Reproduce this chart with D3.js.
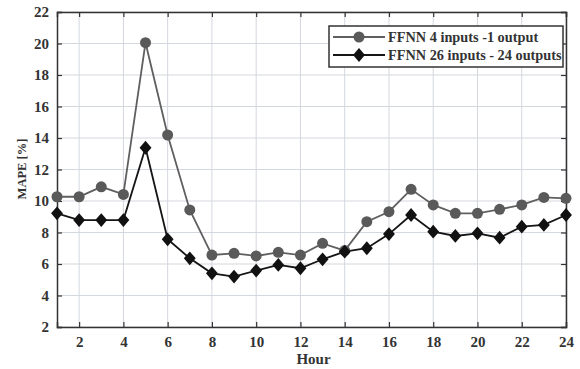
<!DOCTYPE html>
<html>
<head>
<meta charset="utf-8">
<script src="https://cdn.jsdelivr.net/npm/d3@7"></script>
<style>
  body { margin: 0; background: #fff; }
  svg text { font-family: "Liberation Serif", "DejaVu Serif", serif; font-weight: bold; fill: #333; }
</style>
</head>
<body>
<svg id="chart" width="580" height="369"></svg>
<script>
// data
var hours = d3.range(1, 25)
var ffnn4 = [10.27, 10.27, 10.9, 10.42, 20.05, 14.19, 9.43, 6.57, 6.68, 6.51, 6.74, 6.57,
             7.31, 6.85, 8.69, 9.32, 10.74, 9.75, 9.22, 9.22, 9.47, 9.75, 10.23, 10.17]
var ffnn26 = [9.22, 8.79, 8.79, 8.79, 13.38, 7.57, 6.36, 5.41, 5.2, 5.58, 5.94, 5.73,
              6.3, 6.78, 7.0, 7.9, 9.11, 8.05, 7.78, 7.95, 7.67, 8.37, 8.48, 9.11]
var xTicks = [2, 4, 6, 8, 10, 12, 14, 16, 18, 20, 22, 24]
var yTicks = [2, 4, 6, 8, 10, 12, 14, 16, 18, 20, 22]
var legendLabels = ['FFNN 4 inputs -1 output', 'FFNN 26 inputs - 24 outputs']

var svg = d3.select('#chart')
var pLeft = 57, pRight = 566, pTop = 12, pBottom = 327

var x = d3.scaleLinear().domain([1, 24]).range([pLeft, pRight])
var y = d3.scaleLinear().domain([2, 22]).range([pBottom, pTop])

// grid
svg.append('g').selectAll('line')
  .data(xTicks)
  .join('line')
  .attr('x1', d => x(d)).attr('x2', d => x(d))
  .attr('y1', pTop).attr('y2', pBottom)
  .attr('stroke', '#d3d7de').attr('stroke-width', 1)
svg.append('g').selectAll('line')
  .data(yTicks)
  .join('line')
  .attr('x1', pLeft).attr('x2', pRight)
  .attr('y1', d => y(d)).attr('y2', d => y(d))
  .attr('stroke', '#d3d7de').attr('stroke-width', 1)

// axes, ticks pointing inward (matlab style)
var tk = 5
svg.append('g').attr('transform', `translate(0,${pBottom})`)
  .call(d3.axisBottom(x).tickValues(xTicks).tickSize(-tk).tickPadding(9))
svg.append('g').attr('transform', `translate(0,${pTop})`)
  .call(d3.axisTop(x).tickValues(xTicks).tickSize(-tk).tickFormat(''))
svg.append('g').attr('transform', `translate(${pLeft},0)`)
  .call(d3.axisLeft(y).tickValues(yTicks).tickSize(-tk).tickPadding(8))
svg.append('g').attr('transform', `translate(${pRight},0)`)
  .call(d3.axisRight(y).tickValues(yTicks).tickSize(-tk).tickFormat(''))

svg.selectAll('.domain').attr('stroke', '#333').attr('stroke-width', 1.5)
svg.selectAll('.tick line').attr('stroke', '#333').attr('stroke-width', 1.2)
svg.selectAll('.tick text').style('font-size', '15px').attr('fill', '#333')

// axis labels
svg.append('text')
  .attr('x', (pLeft + pRight) / 2 + 2).attr('y', 364)
  .attr('text-anchor', 'middle')
  .style('font-size', '15px')
  .text('Hour')
svg.append('text')
  .attr('transform', `translate(26,169) rotate(-90)`)
  .attr('text-anchor', 'middle')
  .style('font-size', '12.5px')
  .text('MAPE [%]')

// lines
var line = d3.line().x((d, i) => x(hours[i])).y(d => y(d))
svg.append('path').datum(ffnn4)
  .attr('d', line).attr('fill', 'none')
  .attr('stroke', '#5f5f5f').attr('stroke-width', 1.8)
svg.append('path').datum(ffnn26)
  .attr('d', line).attr('fill', 'none')
  .attr('stroke', '#151515').attr('stroke-width', 1.8)

// matlab-ish diamond: a bit wider than d3's default
var wideDiamond = {
  draw: function (ctx, size) {
    var h = Math.sqrt(size) / 1.45, w = h * 0.86
    ctx.moveTo(0, -h); ctx.lineTo(w, 0); ctx.lineTo(0, h); ctx.lineTo(-w, 0); ctx.closePath()
  }
}
var circle = d3.symbol().type(d3.symbolCircle).size(95)
var diamond = d3.symbol().type(wideDiamond).size(100)

svg.append('g').selectAll('path')
  .data(ffnn4)
  .join('path')
  .attr('transform', (d, i) => `translate(${x(hours[i])},${y(d)})`)
  .attr('d', circle)
  .attr('fill', '#5a5a5a')
svg.append('g').selectAll('path')
  .data(ffnn26)
  .join('path')
  .attr('transform', (d, i) => `translate(${x(hours[i])},${y(d)})`)
  .attr('d', diamond)
  .attr('fill', '#111')

// legend
var lg = svg.append('g')
lg.append('rect')
  .attr('x', 329).attr('y', 26).attr('width', 234).attr('height', 41)
  .attr('fill', '#fff').attr('stroke', '#333').attr('stroke-width', 1.5)
var legendRows = lg.selectAll('g.row')
  .data(legendLabels)
  .join('g')
  .attr('class', 'row')
  .attr('transform', (d, i) => `translate(0,${37 + i * 18})`)
legendRows.append('line')
  .attr('x1', 333).attr('x2', 385)
  .attr('stroke', (d, i) => i == 0 ? '#5f5f5f' : '#151515')
  .attr('stroke-width', 1.8)
legendRows.append('path')
  .attr('transform', 'translate(359,0)')
  .attr('d', (d, i) => i == 0 ? circle() : diamond())
  .attr('fill', (d, i) => i == 0 ? '#5a5a5a' : '#111')
legendRows.append('text')
  .attr('x', 388).attr('y', 5)
  .style('font-size', '14.3px')
  .text(d => d)
</script>
</body>
</html>
